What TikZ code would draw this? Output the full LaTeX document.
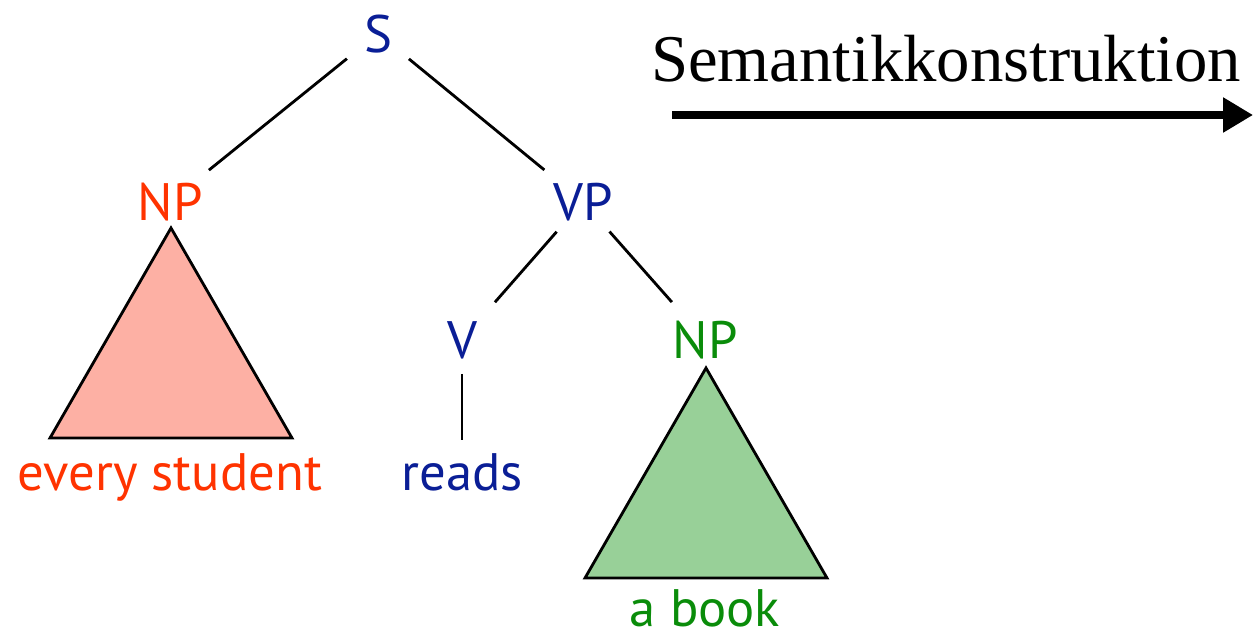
\documentclass[tikz,border=0pt]{standalone}
\usepackage{fontspec}
\setmainfont{Liberation Serif}
\newfontfamily\treefont{PT Sans}
\usetikzlibrary{calc,arrows.meta}

\definecolor{npred}{RGB}{255,51,0}
\definecolor{catblue}{RGB}{10,30,150}
\definecolor{npgreen}{RGB}{10,140,10}
\definecolor{redfill}{RGB}{253,176,164}
\definecolor{greenfill}{RGB}{152,208,152}

\begin{document}
\begin{tikzpicture}[
  x=0.02cm, y=-0.02cm,
  cat/.style={font=\treefont\fontsize{30}{30}\selectfont, inner sep=0pt, anchor=base},
  edge/.style={line width=1.6pt, shorten <=0.8cm, shorten >=1cm},
  semlabel/.style={font=\fontsize{38}{38}\selectfont, inner sep=0pt, anchor=base}
]

\useasboundingbox (0,0) rectangle (1253,636);

\def\subtree(#1)#2;{
  \draw[line width=1.6pt, fill=#2] (#1) -- ++(-121,210) -- ++(242,0) -- cycle;
}

\node[cat,catblue] (S) at (378,52) {S};
\node[cat,npred] (NP1) at (170,220) {NP};
\node[cat,catblue] (VP) at (583,220) {VP};
\node[cat,catblue] (V) at (462,358) {V};
\node[cat,npgreen] (NP2) at (705,358) {NP};

\node[cat,npred] (every) at (170,490) {every student};
\node[cat,catblue] (reads) at (462,490) {reads};
\node[cat,npgreen] (book) at (705,626) {a book};

\draw[edge] (S.center) -- (NP1.center);
\draw[edge] (S.center) -- (VP.center);
\draw[edge] (VP.center) -- (V.center);
\draw[edge] (VP.center) -- (NP2.center);
\draw[edge, shorten <=0.68cm] (V.center) -- (V.center |- reads.base);

\subtree (171,228) {redfill};
\subtree (706,368) {greenfill};

% Pfeil nach rechts
\coordinate (arrS) at (672,115);
\coordinate (arrE) at (1253,115);
\node[semlabel] (sem) at (946,81) {Semantikkonstruktion};
\draw[line width=4pt, -{Triangle[length=17pt,width=19pt]}] (arrS) -- (arrE);

\end{tikzpicture}
\end{document}
